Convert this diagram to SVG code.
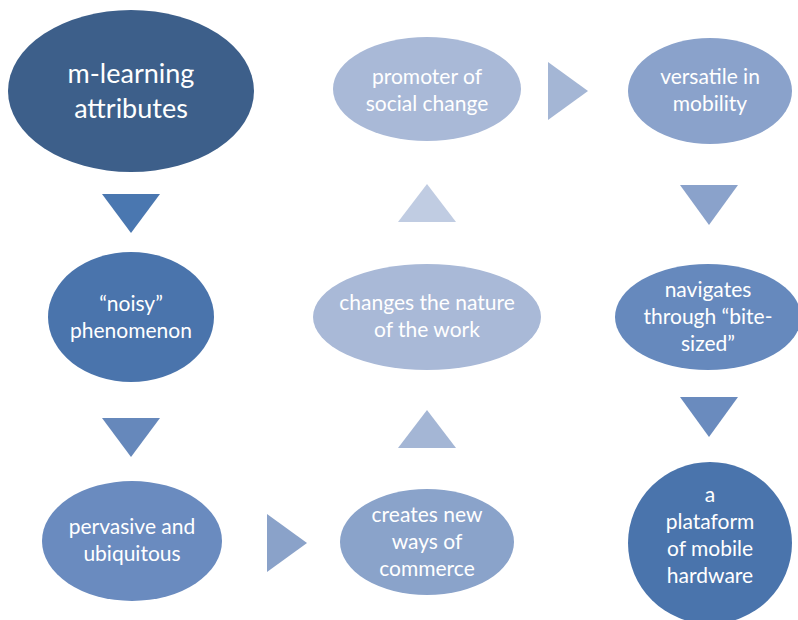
<svg xmlns="http://www.w3.org/2000/svg" width="798" height="620" viewBox="0 0 798 620">
  <style>
    .lbl { font-family: Lato, "Open Sans", sans-serif; fill: #ffffff; text-anchor: middle; font-size: 21px; }
    .big { font-size: 27px; }
  </style>
  <rect width="798" height="620" fill="#ffffff"/>

  <!-- connectors: solid triangular arrowheads between nodes -->
  <g id="connectors">
    <polygon points="102,194 160,194 131,233" fill="#4a77b0"/>
    <polygon points="102,418 160,418 131,457" fill="#6688bb"/>
    <polygon points="267,514 307,543 267,572" fill="#8aa2c9"/>
    <polygon points="398,448 456,448 427,410" fill="#a4b6d5"/>
    <polygon points="398,222 456,222 427,184" fill="#c0cce2"/>
    <polygon points="548,62 588,91 548,120" fill="#a4b6d5"/>
    <polygon points="680,185 738,185 709,225" fill="#8aa2cb"/>
    <polygon points="680,397 738,397 709,437" fill="#6a8bbe"/>
  </g>

  <g id="node-mlearning">
    <ellipse cx="131" cy="91" rx="123" ry="81" fill="#3d5f8a"/>
    <text class="lbl big" x="131" y="83">m-learning</text>
    <text class="lbl big" x="131" y="118">attributes</text>
  </g>

  <g id="node-noisy">
    <ellipse cx="131" cy="317" rx="83" ry="65" fill="#4a74ac"/>
    <text class="lbl" x="131" y="311">“noisy”</text>
    <text class="lbl" x="131" y="338">phenomenon</text>
  </g>

  <g id="node-pervasive">
    <ellipse cx="132" cy="541" rx="90" ry="60" fill="#6a8bbf"/>
    <text class="lbl" x="132" y="534">pervasive and</text>
    <text class="lbl" x="132" y="561">ubiquitous</text>
  </g>

  <g id="node-commerce">
    <ellipse cx="427" cy="542" rx="87" ry="53" fill="#8aa3ca"/>
    <text class="lbl" x="427" y="522">creates new</text>
    <text class="lbl" x="427" y="549">ways of</text>
    <text class="lbl" x="427" y="576">commerce</text>
  </g>

  <g id="node-work">
    <ellipse cx="427" cy="317" rx="114" ry="53" fill="#a9b9d7"/>
    <text class="lbl" x="427" y="310">changes the nature</text>
    <text class="lbl" x="427" y="337">of the work</text>
  </g>

  <g id="node-social">
    <ellipse cx="427" cy="89" rx="94" ry="52" fill="#a9b9d7"/>
    <text class="lbl" x="427" y="84">promoter of</text>
    <text class="lbl" x="427" y="111">social change</text>
  </g>

  <g id="node-mobility">
    <ellipse cx="710" cy="91" rx="82" ry="53" fill="#8aa2cb"/>
    <text class="lbl" x="710" y="84">versatile in</text>
    <text class="lbl" x="710" y="111">mobility</text>
  </g>

  <g id="node-bitesized">
    <ellipse cx="708" cy="317" rx="93" ry="53" fill="#6689bd"/>
    <text class="lbl" x="708" y="297">navigates</text>
    <text class="lbl" x="708" y="324">through “bite-</text>
    <text class="lbl" x="708" y="351">sized”</text>
  </g>

  <g id="node-hardware">
    <ellipse cx="710" cy="543" rx="82" ry="81" fill="#4a74ac"/>
    <text class="lbl" x="710" y="502">a</text>
    <text class="lbl" x="710" y="529">plataform</text>
    <text class="lbl" x="710" y="556">of mobile</text>
    <text class="lbl" x="710" y="583">hardware</text>
  </g>
</svg>
